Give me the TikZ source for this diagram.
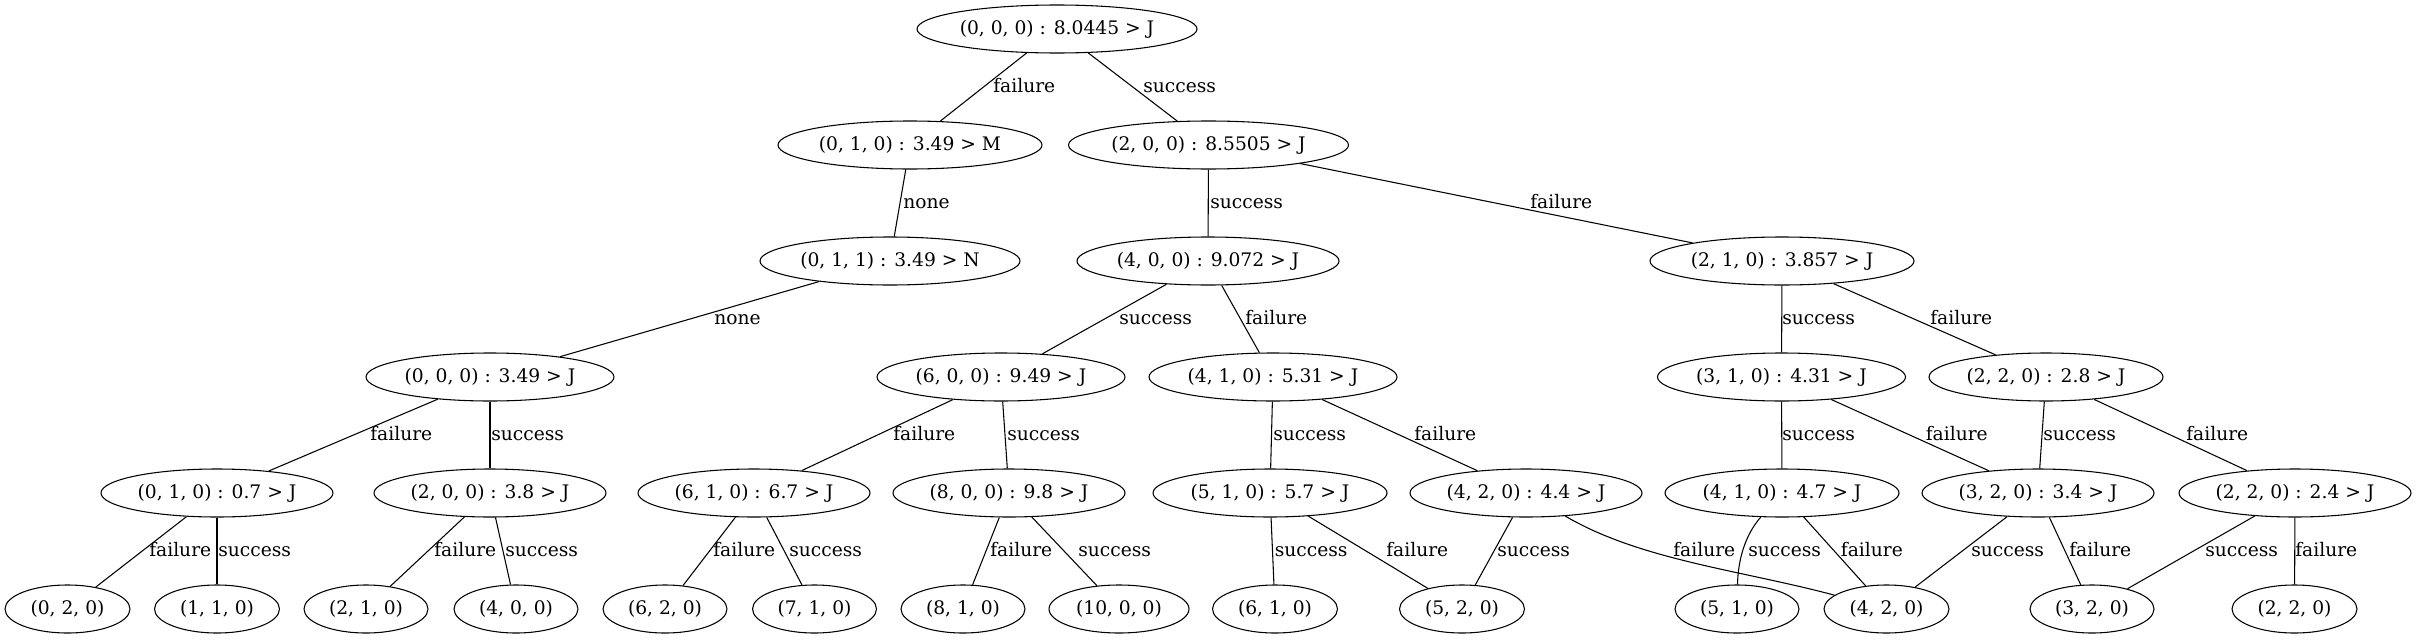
\documentclass[tikz,border=0pt]{standalone}
\usepackage{fontspec}
\setmainfont{DejaVu Serif}
\usetikzlibrary{shapes.geometric}
\tikzset{
  el/.style={draw, ellipse, line width=0.8pt, inner sep=0pt, minimum height=36pt,
    minimum width=#1*1.5pt, text height=8pt, text depth=0pt, font=\fontsize{14pt}{16pt}\selectfont},
  lab/.style={inner sep=0pt, anchor=base west, font=\fontsize{14pt}{16pt}\selectfont},
  edge/.style={draw, line width=0.8pt}
}
\begin{document}
\begin{tikzpicture}[x=0.75pt, y=-0.75pt]
\useasboundingbox (0,0) rectangle (2416,639);
% row 0
\node[el=140] (nA) at (1057,29) {(0, 0, 0) : 8.0445 > J};
% row 1
\node[el=132] (nB) at (910,145) {(0, 1, 0) : 3.49 > M};
\node[el=140] (nC) at (1208.5,145) {(2, 0, 0) : 8.5505 > J};
% row 2
\node[el=130] (nD) at (890,261) {(0, 1, 1) : 3.49 > N};
\node[el=131] (nE) at (1208,261) {(4, 0, 0) : 9.072 > J};
\node[el=132] (nF) at (1782,261) {(2, 1, 0) : 3.857 > J};
% row 3
\node[el=124] (nG) at (490,377) {(0, 0, 0) : 3.49 > J};
\node[el=124] (nH) at (1001,377) {(6, 0, 0) : 9.49 > J};
\node[el=124] (nI) at (1273,377) {(4, 1, 0) : 5.31 > J};
\node[el=124] (nK) at (1781.5,377) {(3, 1, 0) : 4.31 > J};
\node[el=117] (nL) at (2046,377) {(2, 2, 0) : 2.8 > J};
% row 4
\node[el=116] (nM) at (217,493) {(0, 1, 0) : 0.7 > J};
\node[el=116] (nN) at (490,493) {(2, 0, 0) : 3.8 > J};
\node[el=116] (nO) at (754,493) {(6, 1, 0) : 6.7 > J};
\node[el=116] (nP) at (1009,493) {(8, 0, 0) : 9.8 > J};
\node[el=117] (nQ) at (1270,493) {(5, 1, 0) : 5.7 > J};
\node[el=116] (nR) at (1526,493) {(4, 2, 0) : 4.4 > J};
\node[el=117] (nS) at (1782,493) {(4, 1, 0) : 4.7 > J};
\node[el=116] (nT) at (2038,493) {(3, 2, 0) : 3.4 > J};
\node[el=116] (nU) at (2295,493) {(2, 2, 0) : 2.4 > J};
% row 5
\node[el=62.5] (lV) at (67.5,609) {(0, 2, 0)};
\node[el=62.5] (lW) at (217,609) {(1, 1, 0)};
\node[el=62] (lX) at (366,609) {(2, 1, 0)};
\node[el=62] (lY) at (516,609) {(4, 0, 0)};
\node[el=62] (lZ) at (665,609) {(6, 2, 0)};
\node[el=62] (lAA) at (814.5,609) {(7, 1, 0)};
\node[el=62] (lAB) at (963,609) {(8, 1, 0)};
\node[el=70] (lAC) at (1119,609) {(10, 0, 0)};
\node[el=62.5] (lAD) at (1275,609) {(6, 1, 0)};
\node[el=62.5] (lAE) at (1462,609) {(5, 2, 0)};
\node[el=62] (lAF) at (1737,609) {(5, 1, 0)};
\node[el=62.5] (lAG) at (1886.5,609) {(4, 2, 0)};
\node[el=62] (lAH) at (2092,609) {(3, 2, 0)};
\node[el=62.5] (lAI) at (2294.5,609) {(2, 2, 0)};
% edges
\path[edge] (nA) -- (nB);
\path[edge] (nA) -- (nC);
\path[edge] (nB) -- (nD);
\path[edge] (nC) -- (nE);
\path[edge] (nC) -- (nF);
\path[edge] (nD) -- (nG);
\path[edge] (nE) -- (nH);
\path[edge] (nE) -- (nI);
\path[edge] (nF) -- (nK);
\path[edge] (nF) -- (nL);
\path[edge] (nG) -- (nM);
\path[edge] (nG) -- (nN);
\path[edge] (nH) -- (nO);
\path[edge] (nH) -- (nP);
\path[edge] (nI) -- (nQ);
\path[edge] (nI) -- (nR);
\path[edge] (nK) -- (nS);
\path[edge] (nK) -- (nT);
\path[edge] (nL) -- (nT);
\path[edge] (nL) -- (nU);
\path[edge] (nM) -- (lV);
\path[edge] (nM) -- (lW);
\path[edge] (nN) -- (lX);
\path[edge] (nN) -- (lY);
\path[edge] (nO) -- (lZ);
\path[edge] (nO) -- (lAA);
\path[edge] (nP) -- (lAB);
\path[edge] (nP) -- (lAC);
\path[edge] (nQ) -- (lAD);
\path[edge] (nQ) -- (lAE);
\path[edge] (nR) -- (lAE);
\path[edge] (nR) .. controls (1640,560) and (1740,570) .. (lAG);
\path[edge] (nS) .. controls (1745,535) and (1738,560) .. (lAF);
\path[edge] (nS) -- (lAG);
\path[edge] (nT) -- (lAG);
\path[edge] (nT) -- (lAH);
\path[edge] (nU) -- (lAH);
\path[edge] (nU) -- (lAI);
% labels row 0-1
\node[lab] (e1) at (993,92.3) {failure};
\node[lab] (e2) at (1143,92.3) {success};
% row 1-2
\node[lab] (e3) at (903,208.3) {none};
\node[lab] (e4) at (1210,208.3) {success};
\node[lab] (e5) at (1530,208.3) {failure};
% row 2-3
\node[lab] (e6) at (714,324.3) {none};
\node[lab] (e7) at (1119,324.3) {success};
\node[lab] (e8) at (1245,324.3) {failure};
\node[lab] (e9) at (1782,324.3) {success};
\node[lab] (e10) at (1930,324.3) {failure};
% row 3-4
\node[lab] (e11) at (370,440.3) {failure};
\node[lab] (e12) at (491,440.3) {success};
\node[lab] (e13) at (893,440.3) {failure};
\node[lab] (e14) at (1007,440.3) {success};
\node[lab] (e15) at (1273,440.3) {success};
\node[lab] (e16) at (1414,440.3) {failure};
\node[lab] (e17) at (1782,440.3) {success};
\node[lab] (e18) at (1925.5,440.3) {failure};
\node[lab] (e19) at (2043,440.3) {success};
\node[lab] (e20) at (2186,440.3) {failure};
% row 4-5
\node[lab] (e21) at (149,556.3) {failure};
\node[lab] (e22) at (218,556.3) {success};
\node[lab] (e23) at (434,556.3) {failure};
\node[lab] (e24) at (505,556.3) {success};
\node[lab] (e25) at (713,556.3) {failure};
\node[lab] (e26) at (789,556.3) {success};
\node[lab] (e27) at (990,556.3) {failure};
\node[lab] (e28) at (1078,556.3) {success};
\node[lab] (e29) at (1274.5,556.3) {success};
\node[lab] (e30) at (1386,556.3) {failure};
\node[lab] (e31) at (1497,556.3) {success};
\node[lab] (e32) at (1673,556.3) {failure};
\node[lab] (e33) at (1748,556.3) {success};
\node[lab] (e34) at (1840.6,556.3) {failure};
\node[lab] (e35) at (1971,556.3) {success};
\node[lab] (e36) at (2069,556.3) {failure};
\node[lab] (e37) at (2205,556.3) {success};
\node[lab] (e38) at (2295,556.3) {failure};
\end{tikzpicture}
\end{document}
